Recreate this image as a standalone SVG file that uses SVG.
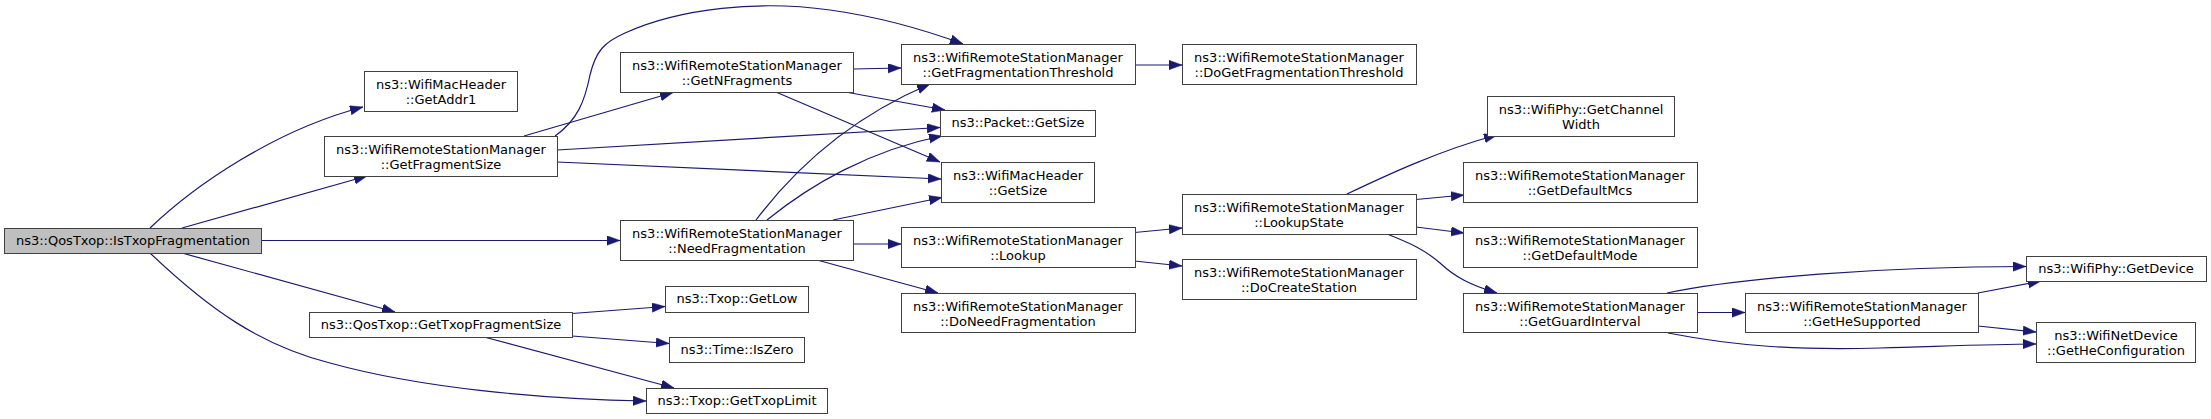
<svg xmlns="http://www.w3.org/2000/svg" width="2211" height="419" viewBox="0 0 2211 419">
<style>
.n rect{fill:#ffffff;stroke:#404040;stroke-width:1}
.n.root rect{fill:#bfbfbf}
.n text{font-family:"DejaVu Sans","Liberation Sans",sans-serif;font-size:13px;fill:#000;text-anchor:middle}
#edges path{fill:none;stroke:#191970;stroke-width:1.2}
</style>
<defs>
<marker id="ah" markerUnits="userSpaceOnUse" markerWidth="14" markerHeight="11" refX="13" refY="4.7" orient="auto">
<path d="M0,0 L13,4.7 L0,9.4 z" fill="#191970" stroke="#191970" stroke-width="0.5"/>
</marker>
</defs>
<rect width="2211" height="419" fill="#ffffff"/>
<g id="edges">
<path marker-end="url(#ah)" d="M150,228 C195,185 275,130 363,107"/>
<path marker-end="url(#ah)" d="M182,228 L367,176"/>
<path marker-end="url(#ah)" d="M261,240.5 L620,240.5"/>
<path marker-end="url(#ah)" d="M182,253 L395,312"/>
<path marker-end="url(#ah)" d="M150,253 C210,310 260,345 330,363 C420,388 540,399 646,401"/>
<path marker-end="url(#ah)" d="M524,136 L673,92.5"/>
<path marker-end="url(#ah)" d="M555,136 C578,120 585,100 590,75 C596,50 605,42 625,33 C680,8 760,0 830,10 C880,17 925,30 963,44"/>
<path marker-end="url(#ah)" d="M557,150 L940,127.5"/>
<path marker-end="url(#ah)" d="M557,162 L941,179"/>
<path marker-end="url(#ah)" d="M853,69 L901,68"/>
<path marker-end="url(#ah)" d="M848,92.5 L945,110"/>
<path marker-end="url(#ah)" d="M777,92.5 L940,162"/>
<path marker-end="url(#ah)" d="M756,220 C790,175 845,120 930,84"/>
<path marker-end="url(#ah)" d="M767,220 C810,185 870,150 942,136"/>
<path marker-end="url(#ah)" d="M833,220 L942,197.5"/>
<path marker-end="url(#ah)" d="M853,244 L901,244"/>
<path marker-end="url(#ah)" d="M817,260 L938,293"/>
<path marker-end="url(#ah)" d="M1134.5,65 L1182,65"/>
<path marker-end="url(#ah)" d="M1134.5,232.5 L1182,228"/>
<path marker-end="url(#ah)" d="M1134.5,261 L1182,266"/>
<path marker-end="url(#ah)" d="M1347,194 C1385,176 1440,150 1497,135"/>
<path marker-end="url(#ah)" d="M1416,199.5 L1464,195"/>
<path marker-end="url(#ah)" d="M1416,227 L1464,233"/>
<path marker-end="url(#ah)" d="M1387,234 C1410,243 1425,250 1440,263 C1455,277 1470,285 1497,293"/>
<path marker-end="url(#ah)" d="M1667,293 C1740,278 1880,266.5 2026,266.5"/>
<path marker-end="url(#ah)" d="M1697,312.5 L1745,312.5"/>
<path marker-end="url(#ah)" d="M1668,333 C1740,347 1800,350 1880,348 C1950,346 2000,344 2036,344"/>
<path marker-end="url(#ah)" d="M1978,293 L2041,281"/>
<path marker-end="url(#ah)" d="M1978,326 L2036,332"/>
<path marker-end="url(#ah)" d="M572,313.5 L665,306.5"/>
<path marker-end="url(#ah)" d="M572,336 L669,343.5"/>
<path marker-end="url(#ah)" d="M484,337 L674,388"/>
</g>
<g id="IsTxopFragmentation" class="n root"><rect x="4.5" y="228.5" width="257" height="25"/><text x="133" y="245">ns3::QosTxop::IsTxopFragmentation</text></g>
<g id="GetAddr1" class="n"><rect x="364.5" y="71.5" width="153" height="40"/><text x="441" y="89">ns3::WifiMacHeader</text><text x="441" y="104">::GetAddr1</text></g>
<g id="GetFragmentSize" class="n"><rect x="324.5" y="136.5" width="233" height="40"/><text x="441" y="154">ns3::WifiRemoteStationManager</text><text x="441" y="169">::GetFragmentSize</text></g>
<g id="GetTxopFragmentSize" class="n"><rect x="309.5" y="312.5" width="263" height="25"/><text x="441" y="329">ns3::QosTxop::GetTxopFragmentSize</text></g>
<g id="GetNFragments" class="n"><rect x="620.5" y="52.5" width="233" height="40"/><text x="737" y="70">ns3::WifiRemoteStationManager</text><text x="737" y="85">::GetNFragments</text></g>
<g id="NeedFragmentation" class="n"><rect x="620.5" y="220.5" width="233" height="40"/><text x="737" y="238">ns3::WifiRemoteStationManager</text><text x="737" y="253">::NeedFragmentation</text></g>
<g id="GetLow" class="n"><rect x="665.5" y="286.5" width="143" height="26"/><text x="737" y="303">ns3::Txop::GetLow</text></g>
<g id="IsZero" class="n"><rect x="669.5" y="337.5" width="135" height="25"/><text x="737" y="354">ns3::Time::IsZero</text></g>
<g id="GetTxopLimit" class="n"><rect x="646.5" y="388.5" width="181" height="25"/><text x="737" y="405">ns3::Txop::GetTxopLimit</text></g>
<g id="GetFragmentationThreshold" class="n"><rect x="901.5" y="44.5" width="234" height="40"/><text x="1018" y="62">ns3::WifiRemoteStationManager</text><text x="1018" y="77">::GetFragmentationThreshold</text></g>
<g id="PacketGetSize" class="n"><rect x="940.5" y="110.5" width="155" height="26"/><text x="1018" y="127">ns3::Packet::GetSize</text></g>
<g id="WifiMacHeaderGetSize" class="n"><rect x="941.5" y="162.5" width="153" height="40"/><text x="1018" y="180">ns3::WifiMacHeader</text><text x="1018" y="195">::GetSize</text></g>
<g id="Lookup" class="n"><rect x="901.5" y="227.5" width="234" height="40"/><text x="1018" y="245">ns3::WifiRemoteStationManager</text><text x="1018" y="260">::Lookup</text></g>
<g id="DoNeedFragmentation" class="n"><rect x="901.5" y="293.5" width="234" height="39"/><text x="1018" y="311">ns3::WifiRemoteStationManager</text><text x="1018" y="326">::DoNeedFragmentation</text></g>
<g id="DoGetFragmentationThreshold" class="n"><rect x="1182.5" y="44.5" width="234" height="40"/><text x="1299" y="62">ns3::WifiRemoteStationManager</text><text x="1299" y="77">::DoGetFragmentationThreshold</text></g>
<g id="LookupState" class="n"><rect x="1182.5" y="194.5" width="234" height="40"/><text x="1299" y="212">ns3::WifiRemoteStationManager</text><text x="1299" y="227">::LookupState</text></g>
<g id="DoCreateStation" class="n"><rect x="1182.5" y="259.5" width="234" height="40"/><text x="1299" y="277">ns3::WifiRemoteStationManager</text><text x="1299" y="292">::DoCreateStation</text></g>
<g id="GetChannelWidth" class="n"><rect x="1487.5" y="96.5" width="187" height="40"/><text x="1581" y="114">ns3::WifiPhy::GetChannel</text><text x="1581" y="129">Width</text></g>
<g id="GetDefaultMcs" class="n"><rect x="1463.5" y="162.5" width="234" height="40"/><text x="1580" y="180">ns3::WifiRemoteStationManager</text><text x="1580" y="195">::GetDefaultMcs</text></g>
<g id="GetDefaultMode" class="n"><rect x="1463.5" y="227.5" width="234" height="40"/><text x="1580" y="245">ns3::WifiRemoteStationManager</text><text x="1580" y="260">::GetDefaultMode</text></g>
<g id="GetGuardInterval" class="n"><rect x="1463.5" y="293.5" width="234" height="39"/><text x="1580" y="311">ns3::WifiRemoteStationManager</text><text x="1580" y="326">::GetGuardInterval</text></g>
<g id="GetDevice" class="n"><rect x="2026.5" y="256.5" width="180" height="25"/><text x="2116" y="273">ns3::WifiPhy::GetDevice</text></g>
<g id="GetHeSupported" class="n"><rect x="1745.5" y="293.5" width="233" height="39"/><text x="1862" y="311">ns3::WifiRemoteStationManager</text><text x="1862" y="326">::GetHeSupported</text></g>
<g id="GetHeConfiguration" class="n"><rect x="2036.5" y="322.5" width="159" height="40"/><text x="2116" y="340">ns3::WifiNetDevice</text><text x="2116" y="355">::GetHeConfiguration</text></g>
</svg>
